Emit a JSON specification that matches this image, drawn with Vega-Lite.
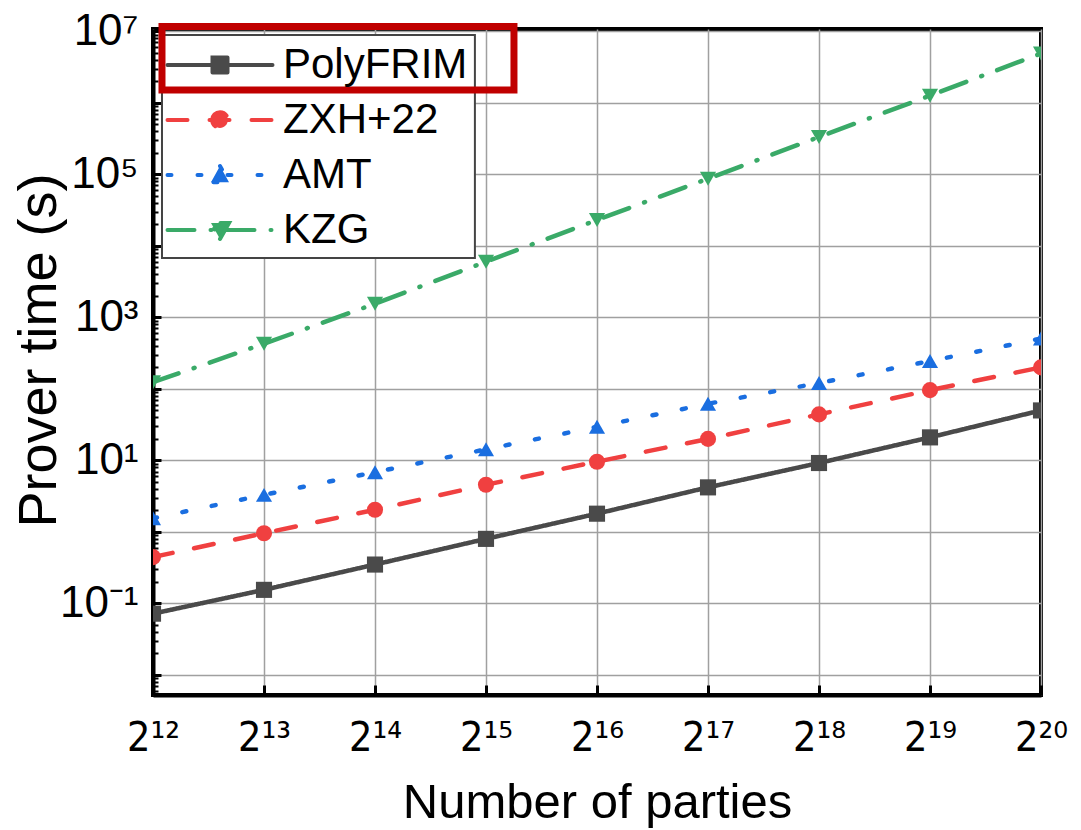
{
  "$schema": "https://vega.github.io/schema/vega-lite/v6.json",
  "width": 888,
  "height": 666,
  "autosize": "none",
  "padding": {"left": 153, "top": 29, "right": 40, "bottom": 135},
  "background": "white",
  "config": {
    "font": "Liberation Sans",
    "view": {"stroke": "#000000", "strokeWidth": 4},
    "axis": {
      "gridColor": "#a0a0a0",
      "gridWidth": 1.5,
      "gridOpacity": 1,
      "tickColor": "#000000",
      "domainColor": "#000000",
      "labelColor": "#000000",
      "titleColor": "#000000",
      "titleFontWeight": "normal"
    }
  },
  "data": {
    "values": [
      {"series": "PolyFRIM", "exp": 12, "time": 0.072},
      {"series": "PolyFRIM", "exp": 13, "time": 0.155},
      {"series": "PolyFRIM", "exp": 14, "time": 0.35},
      {"series": "PolyFRIM", "exp": 15, "time": 0.8},
      {"series": "PolyFRIM", "exp": 16, "time": 1.8},
      {"series": "PolyFRIM", "exp": 17, "time": 4.2},
      {"series": "PolyFRIM", "exp": 18, "time": 9.2},
      {"series": "PolyFRIM", "exp": 19, "time": 21},
      {"series": "PolyFRIM", "exp": 20, "time": 50},
      {"series": "ZXH+22", "exp": 12, "time": 0.445},
      {"series": "ZXH+22", "exp": 13, "time": 0.96},
      {"series": "ZXH+22", "exp": 14, "time": 2.04},
      {"series": "ZXH+22", "exp": 15, "time": 4.57},
      {"series": "ZXH+22", "exp": 16, "time": 9.6},
      {"series": "ZXH+22", "exp": 17, "time": 20},
      {"series": "ZXH+22", "exp": 18, "time": 44},
      {"series": "ZXH+22", "exp": 19, "time": 96},
      {"series": "ZXH+22", "exp": 20, "time": 200},
      {"series": "AMT", "exp": 12, "time": 1.55},
      {"series": "AMT", "exp": 13, "time": 3.3},
      {"series": "AMT", "exp": 14, "time": 6.85},
      {"series": "AMT", "exp": 15, "time": 14.3},
      {"series": "AMT", "exp": 16, "time": 29.5},
      {"series": "AMT", "exp": 17, "time": 62},
      {"series": "AMT", "exp": 18, "time": 121},
      {"series": "AMT", "exp": 19, "time": 245},
      {"series": "AMT", "exp": 20, "time": 505},
      {"series": "KZG", "exp": 12, "time": 124},
      {"series": "KZG", "exp": 13, "time": 428},
      {"series": "KZG", "exp": 14, "time": 1550},
      {"series": "KZG", "exp": 15, "time": 6000},
      {"series": "KZG", "exp": 16, "time": 23000},
      {"series": "KZG", "exp": 17, "time": 87000},
      {"series": "KZG", "exp": 18, "time": 333000},
      {"series": "KZG", "exp": 19, "time": 1260000},
      {"series": "KZG", "exp": 20, "time": 4900000}
    ]
  },
  "layer": [
    {
      "data": {"values": [{}]},
      "mark": {"type": "rect", "fill": "white", "stroke": "#444444", "strokeWidth": 2, "clip": false},
      "encoding": {
        "x": {"datum": 12.081, "type": "quantitative", "scale": {"domain": [12, 20], "nice": false, "zero": false}},
        "x2": {"datum": 14.9},
        "y": {
          "datum": 8880000, "type": "quantitative",
          "scale": {"type": "log", "domain": [0.00525, 10770000], "nice": false},
          "axis": {
            "orient": "left",
            "title": null,
            "labels": false,
            "grid": false,
            "domain": false,
            "tickSize": -5,
            "tickWidth": 2,
            "values": [0.006, 0.007, 0.008, 0.009, 0.02, 0.03, 0.04, 0.05, 0.06, 0.07, 0.08, 0.09, 0.2, 0.3, 0.4, 0.5, 0.6, 0.7, 0.8, 0.9, 2, 3, 4, 5, 6, 7, 8, 9, 20, 30, 40, 50, 60, 70, 80, 90, 200, 300, 400, 500, 600, 700, 800, 900, 2000, 3000, 4000, 5000, 6000, 7000, 8000, 9000, 20000, 30000, 40000, 50000, 60000, 70000, 80000, 90000, 200000, 300000, 400000, 500000, 600000, 700000, 800000, 900000, 2000000, 3000000, 4000000, 5000000, 6000000, 7000000, 8000000, 9000000]
          }
        },
        "y2": {"datum": 6750}
      }
    },
    {
      "mark": {"type": "line", "strokeCap": "round", "strokeWidth": 4.5, "clip": true},
      "encoding": {
        "x": {
          "field": "exp", "type": "quantitative",
          "scale": {"domain": [12, 20], "nice": false, "zero": false},
          "axis": {
            "title": "Number of parties",
            "titleFontSize": 49,
            "titleBaseline": "alphabetic",
            "titleY": 122,
            "values": [12, 13, 14, 15, 16, 17, 18, 19, 20],
            "labelExpr": "'2' + ['¹²','¹³','¹⁴','¹⁵','¹⁶','¹⁷','¹⁸','¹⁹','²⁰'][datum.value - 12]",
            "labelFont": "DejaVu Sans Condensed",
            "labelFontSize": 41,
            "labelBaseline": "alphabetic",
            "labelPadding": 65,
            "labelFlush": false,
            "tickSize": -10,
            "tickWidth": 3,
            "domainWidth": 4,
            "grid": true
          }
        },
        "y": {
          "field": "time", "type": "quantitative",
          "scale": {"type": "log", "domain": [0.00525, 10770000], "nice": false},
          "axis": {
            "orient": "left",
            "title": "Prover time (s)",
            "titleFontSize": 54,
            "titleX": -87,
            "titleY": 321,
            "values": [0.01, 0.1, 1, 10, 100, 1000, 10000, 100000, 1000000, 10000000],
            "labelExpr": "abs(round(log(datum.value)/LN10)) % 2 == 1 ? '10' + ['⁻²','⁻¹','⁰','¹','²','³','⁴','⁵','⁶','⁷'][round(log(datum.value)/LN10) + 2] : ''",
            "labelFont": "Liberation Sans",
            "labelFontSize": 44,
            "labelPadding": 23,
            "labelFlush": false,
            "labelOverlap": false,
            "tickSize": -8,
            "tickWidth": 3,
            "domainWidth": 4,
            "grid": true
          }
        },
        "color": {
          "field": "series", "type": "nominal",
          "scale": {"domain": ["PolyFRIM", "ZXH+22", "AMT", "KZG"], "range": ["#4a4a4a", "#f04040", "#1a6ee0", "#3aaa68"]},
          "legend": {
            "title": null,
            "orient": "none",
            "legendX": 0,
            "legendY": 15,
            "padding": 0,
            "fillColor": null,
            "strokeColor": null,
            "symbolSize": 225,
            "symbolOffset": 46,
            "labelOffset": 42,
            "rowPadding": 13,
            "labelFontSize": 42,
            "labelFont": "Liberation Sans",
            "labelColor": "#000000",
            "labelLimit": 400,
            "encode": {
              "symbols": {
                "update": {
                  "shape": {"signal": "datum.value === 'PolyFRIM' ? 'M-7,0H7M-1,-1H1V1H-1Z' : datum.value === 'ZXH+22' ? 'M-7,0H7M-1.05,0A1.05,1.05 0 1,1 1.05,0A1.05,1.05 0 1,1 -1.05,0Z' : datum.value === 'AMT' ? 'M-7,0H7M0,-1.2L1.2,0.95L-1.2,0.95Z' : 'M-7,0H7M0,1.2L1.2,-0.95L-1.2,-0.95Z'"},
                  "strokeDash": {"signal": "datum.value === 'PolyFRIM' ? [1,0] : datum.value === 'ZXH+22' ? [20,22] : datum.value === 'AMT' ? [4,26] : [27,16,1,16]"},
                  "strokeCap": {"value": "round"},
                  "strokeWidth": {"value": 4},
                  "fill": {"signal": "datum.value === 'PolyFRIM' ? '#4a4a4a' : datum.value === 'ZXH+22' ? '#f04040' : datum.value === 'AMT' ? '#1a6ee0' : '#3aaa68'"},
                  "stroke": {"signal": "datum.value === 'PolyFRIM' ? '#4a4a4a' : datum.value === 'ZXH+22' ? '#f04040' : datum.value === 'AMT' ? '#1a6ee0' : '#3aaa68'"},
                  "opacity": {"value": 1},
                  "fillOpacity": {"value": 1},
                  "strokeOpacity": {"value": 1}
                }
              }
            }
          }
        },
        "strokeDash": {
          "field": "series", "type": "nominal",
          "scale": {"domain": ["KZG", "AMT", "ZXH+22", "PolyFRIM"], "range": [[27, 16, 1, 16], [4, 26], [20, 22], [1, 0]]},
          "legend": null
        }
      }
    },
    {
      "mark": {"type": "point", "filled": true, "opacity": 1, "size": 260, "clip": true},
      "encoding": {
        "x": {"field": "exp", "type": "quantitative", "scale": {"domain": [12, 20], "nice": false, "zero": false}},
        "y": {"field": "time", "type": "quantitative", "scale": {"type": "log", "domain": [0.00525, 10770000], "nice": false}, "axis": null},
        "color": {"field": "series", "type": "nominal", "scale": {"domain": ["PolyFRIM", "ZXH+22", "AMT", "KZG"], "range": ["#4a4a4a", "#f04040", "#1a6ee0", "#3aaa68"]}},
        "shape": {
          "field": "series", "type": "nominal",
          "scale": {"domain": ["AMT", "KZG", "PolyFRIM", "ZXH+22"], "range": ["triangle-up", "triangle-down", "square", "circle"]},
          "legend": null
        }
      }
    },
    {
      "data": {"values": [{}]},
      "mark": {"type": "rect", "filled": false, "stroke": "#c00000", "strokeWidth": 7, "clip": false},
      "encoding": {
        "x": {"datum": 12.081, "type": "quantitative"},
        "x2": {"datum": 15.252},
        "y": {"datum": 11660000, "type": "quantitative", "axis": null},
        "y2": {"datum": 1510000}
      }
    }
  ],
  "resolve": {"axis": {"y": "independent"}}
}
